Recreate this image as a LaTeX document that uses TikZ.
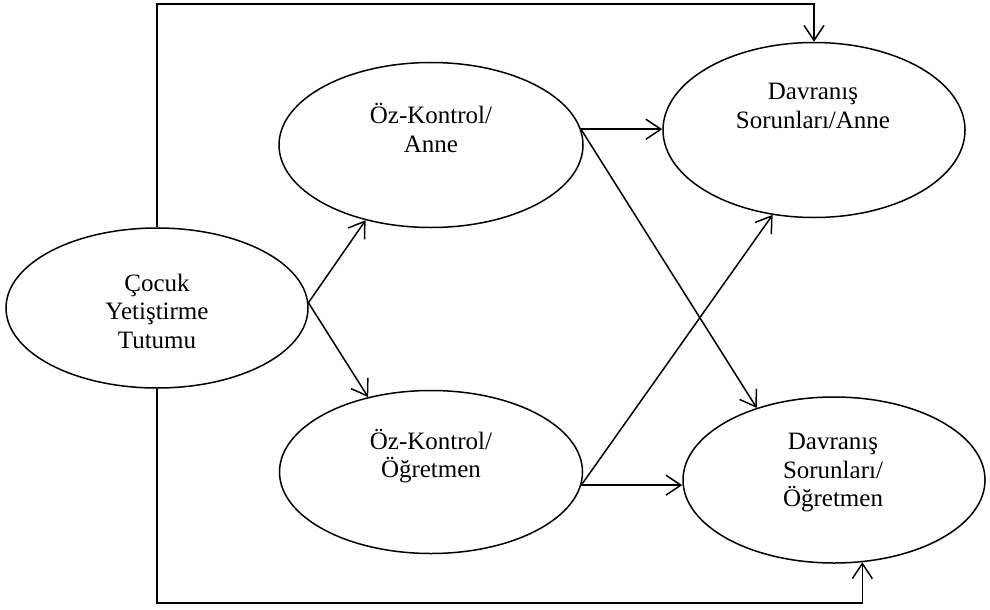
\documentclass[tikz,border=0pt]{standalone}
\usepackage{fontspec}
\setmainfont{Liberation Serif}
\usetikzlibrary{shapes.geometric,arrows.meta,calc}
\begin{document}
\begin{tikzpicture}[x=1pt,y=-1pt,
  ell/.style={draw=black,ellipse,line width=1.5pt,inner sep=0pt},
  txt/.style={align=center,inner sep=0pt,font=\fontsize{25}{28.5}\selectfont},
  con/.style={draw=black,line width=1.5pt},
  arr/.style={con,-{Straight Barb[length=15pt,width=20pt,line width=1.5pt]}}]
\useasboundingbox (0,0) rectangle (990,610);
\node[ell,minimum width=302pt,minimum height=160pt] (c) at (157,308) {};
\node[ell,minimum width=304pt,minimum height=165pt] (oa) at (431,145) {};
\node[ell,minimum width=303pt,minimum height=163pt] (oo) at (431,472) {};
\node[ell,minimum width=302pt,minimum height=175pt] (da) at (814,130) {};
\node[ell,minimum width=302pt,minimum height=166pt] (do) at (834,480) {};
\node[txt] (ct) at (157,311) {Çocuk\\Yetiştirme\\Tutumu};
\node[txt] (oat) at (431,128) {Öz-Kontrol/\\Anne};
\node[txt] (oot) at (431,456) {Öz-Kontrol/\\Öğretmen};
\node[txt] (dat) at (813,106) {Davranış\\Sorunları/Anne};
\node[txt] (dot) at (833,473) {Davranış\\Sorunları/\\Öğretmen};
\coordinate (top) at (0,4);
\coordinate (bot) at (0,603);
\draw[arr] (c.north) -- (c.north |- top) -| (da.north);
\draw[arr] (c.south) -- (c.south |- bot) -| (do.-71);
\draw[arr] (c.2) -- (oa.-131);
\draw[arr] (c.2) -- (oo.130);
\draw[arr] (oa.6) -- (oa.6 -| da.west);
\draw[arr] (oa.6) -- (do.137);
\draw[arr] (oo.-5) -- (oo.-5 -| do.west);
\draw[arr] (oo.-5) -- (da.-116);
\end{tikzpicture}
\end{document}
